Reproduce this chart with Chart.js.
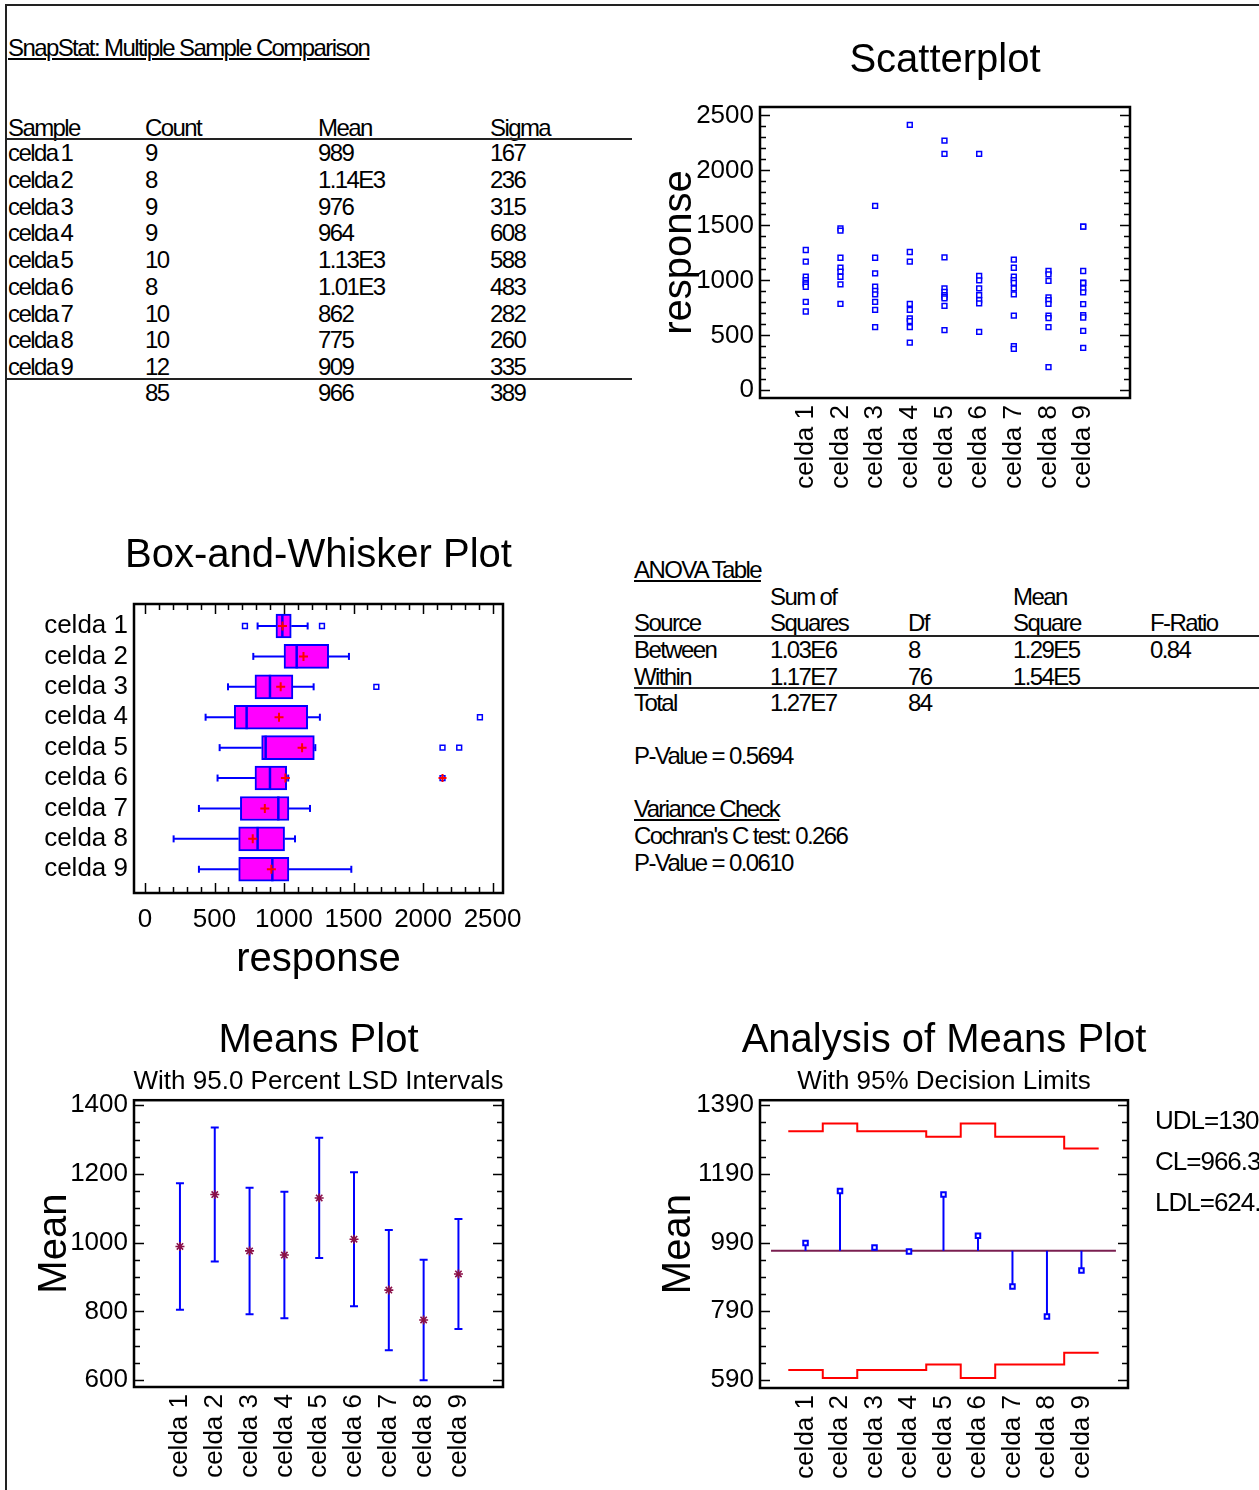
<!DOCTYPE html>
<html>
<head>
<meta charset="utf-8">
<title>Multiple Sample Comparison</title>
<script src="https://cdn.jsdelivr.net/npm/chart.js@4.4.1/dist/chart.umd.min.js"></script>
<style>
  html, body { margin: 0; padding: 0; background: #fff; overflow: hidden; }
  body { width: 1259px; height: 1490px; position: relative; font-family: 'Liberation Sans', Arial, sans-serif; color: #000; }
  .marco { position: absolute; left: 5px; top: 4px; right: -10px; bottom: -10px; border-left: 2px solid #222; border-top: 2px solid #222; }
  .t { position: absolute; font-size: 24px; line-height: 26px; letter-spacing: -1.6px; white-space: nowrap; }
  .u { text-decoration: underline; text-decoration-thickness: 1.5px; text-underline-offset: 2px; }
  .raya { position: absolute; height: 2px; background: #222; }
  .lim { position: absolute; font-size: 26px; line-height: 30px; letter-spacing: -1px; white-space: nowrap; }
  canvas { position: absolute; }
</style>
</head>
<body>
<div class="marco"></div>
<canvas id="dispersion" width="610" height="480" style="left:640px;top:20px"></canvas>
<canvas id="cajas" width="597" height="475" style="left:20px;top:515px"></canvas>
<canvas id="medias" width="597" height="485" style="left:20px;top:1005px"></canvas>
<canvas id="anom" width="608" height="485" style="left:640px;top:1005px"></canvas>
<script>
// muestras
const celdas = ['celda 1', 'celda 2', 'celda 3', 'celda 4', 'celda 5', 'celda 6', 'celda 7', 'celda 8', 'celda 9'];
const recuentos = [9, 8, 9, 9, 10, 8, 10, 10, 12];
const medias = [989, 1140, 976, 964, 1130, 1010, 862, 775, 909];
const sigmas = [167, 236, 315, 608, 588, 483, 282, 260, 335];
const totales = [85, 966, 389];

// observaciones de cada celda
const celda1 = [1276, 1170, 1033, 1002, 978, 963, 942, 805, 717];
const celda2 = [1473, 1452, 1206, 1115, 1079, 1033, 963, 787];
const celda3 = [1677, 1206, 1063, 942, 905, 872, 805, 732, 574];
const celda4 = [2415, 1258, 1170, 787, 732, 653, 629, 574, 434];
const celda5 = [2272, 2151, 1209, 927, 896, 866, 850, 836, 768, 547];
const celda6 = [2151, 1040, 1000, 927, 866, 820, 790, 531];
const celda7 = [1188, 1115, 1033, 1002, 978, 927, 872, 680, 401, 377];
const celda8 = [1085, 1054, 996, 845, 820, 787, 680, 656, 574, 210];
const celda9 = [1489, 1489, 1085, 980, 978, 927, 890, 784, 683, 662, 541, 386];
const respuestas = [celda1, celda2, celda3, celda4, celda5, celda6, celda7, celda8, celda9];

// caja y bigotes
const bigoteBajo = [810, 779, 597, 436, 537, 522, 388, 206, 388];
const cuartil1 = [942, 1000, 791, 642, 839, 791, 686, 674, 674];
const mediana = [988, 1091, 899, 731, 868, 899, 959, 810, 916];
const cuartil3 = [1052, 1321, 1064, 1170, 1218, 1019, 1035, 1004, 1035];
const bigoteAlto = [1170, 1467, 1213, 1258, 1225, 1030, 1187, 1079, 1484];
const atipicos = [[719, 1273], [], [1664], [2409], [2140, 2260], [2140], [], [], []];
const muyAtipicos = [[], [], [], [], [], [2140], [], [], []];

// intervalos LSD al 95%
const lsdBajo = [805, 945, 792, 780, 955, 815, 687, 600, 749];
const lsdAlto = [1173, 1335, 1160, 1148, 1305, 1205, 1037, 950, 1069];

// limites de decision ANOM
const lineaCentral = 966.3;
const limSuperior = [1314, 1337, 1314, 1314, 1298, 1337, 1298, 1298, 1264];
const limInferior = [619, 596, 619, 619, 635, 596, 635, 635, 669];

// marcas de los ejes
const ticksRespuesta = [0, 500, 1000, 1500, 2000, 2500];
const ticksMedias = [600, 800, 1000, 1200, 1400];
const ticksAnom = [590, 790, 990, 1190, 1390];

const AZUL = '#0000ff';
const ROJO = '#ff0000';

// ---------- texto de las tablas ----------
function texto(str, x, y, cls) {
  const d = document.createElement('div');
  d.className = 't' + (cls ? ' ' + cls : '');
  d.textContent = str;
  d.style.left = x + 'px';
  d.style.top = (y - 13) + 'px';
  document.body.appendChild(d);
}
function raya(x1, x2, y) {
  const d = document.createElement('div');
  d.className = 'raya';
  d.style.left = x1 + 'px';
  d.style.width = (x2 - x1) + 'px';
  d.style.top = (y - 1) + 'px';
  document.body.appendChild(d);
}
const fmt = (v) => (v >= 1000 ? (v / 1000).toFixed(2) + 'E3' : String(v));

texto('SnapStat: Multiple Sample Comparison', 8, 48, 'u');
const colTabla = [8, 145, 318, 490];
['Sample', 'Count', 'Mean', 'Sigma'].forEach((h, j) => texto(h, colTabla[j], 128));
raya(6, 632, 139);
celdas.forEach((c, i) => {
  const y = 153 + i * 26.75;
  texto(c.replace(' ', '\u2009'), colTabla[0], y);
  texto(String(recuentos[i]), colTabla[1], y);
  texto(fmt(medias[i]), colTabla[2], y);
  texto(String(sigmas[i]), colTabla[3], y);
});
raya(6, 632, 379);
totales.forEach((v, j) => texto(String(v), colTabla[j + 1], 393));

const colAnova = [634, 770, 908, 1013, 1150];
texto('ANOVA Table', 634, 570, 'u');
texto('Sum of', colAnova[1], 597);
texto('Mean', colAnova[3], 597);
['Source', 'Squares', 'Df', 'Square', 'F-Ratio'].forEach((h, j) => texto(h, colAnova[j], 623));
raya(634, 1259, 636);
[
  ['Between', '1.03E6', '8', '1.29E5', '0.84'],
  ['Within', '1.17E7', '76', '1.54E5', ''],
  ['Total', '1.27E7', '84', '', ''],
].forEach((fila, i) => fila.forEach((s, j) => { if (s) texto(s, colAnova[j], 650 + i * 26.5); }));
raya(634, 1259, 688);
texto('P-Value = 0.5694', 634, 756);
texto('Variance Check', 634, 809, 'u');
texto("Cochran's C test: 0.266", 634, 836);
texto('P-Value = 0.0610', 634, 863);

['UDL=1308.2', 'CL=' + lineaCentral, 'LDL=624.4'].forEach((s, i) => {
  const d = document.createElement('div');
  d.className = 'lim';
  d.textContent = s;
  d.style.left = '1155px';
  d.style.top = (1120 + i * 41 - 15) + 'px';
  document.body.appendChild(d);
});

// ---------- graficos ----------
Chart.defaults.font.family = "'Liberation Sans', Arial, sans-serif";
Chart.defaults.color = '#000';

// marco del area de trazado y marcas hacia dentro
const marcoTicks = {
  id: 'marcoTicks',
  afterDraw(chart, args, opts) {
    const { ctx, chartArea: a } = chart;
    ctx.save();
    ctx.strokeStyle = '#000';
    ctx.lineWidth = 1.5;
    (opts.marcas || []).forEach((m) => {
      const esc = chart.scales[m.eje];
      for (let v = m.desde; v <= m.hasta + 1e-6; v += m.paso) {
        const p = Math.round(esc.getPixelForValue(v)) + 0.5;
        const largo = Math.abs((v - m.desde) % m.mayor) < 1e-6 ? 10 : 6;
        ctx.beginPath();
        if (m.eje === 'y') {
          ctx.moveTo(a.left, p); ctx.lineTo(a.left + largo, p);
          ctx.moveTo(a.right, p); ctx.lineTo(a.right - largo, p);
        } else {
          ctx.moveTo(p, a.top); ctx.lineTo(p, a.top + largo);
          ctx.moveTo(p, a.bottom); ctx.lineTo(p, a.bottom - largo);
        }
        ctx.stroke();
      }
    });
    ctx.lineWidth = 2.5;
    ctx.strokeRect(a.left, a.top, a.right - a.left, a.bottom - a.top);
    ctx.restore();
  },
};

// eje vacio a la derecha: reserva margen y deja el titulo centrado sobre el area de trazado
function margenDerecho(ancho) {
  return {
    type: 'linear', position: 'right', display: true,
    grid: { display: false, drawTicks: false }, border: { display: false },
    ticks: { display: false },
    afterFit: (s) => { s.width = ancho; },
  };
}

function opciones(o) {
  return {
    responsive: false,
    animation: false,
    devicePixelRatio: 1,
    layout: { padding: 0 },
    scales: Object.assign({}, o.scales, { margen: margenDerecho(o.derecha) }),
    plugins: {
      legend: { display: false },
      tooltip: { enabled: false },
      title: { display: true, text: o.titulo, font: { size: 40, weight: 'normal' }, color: '#000', padding: o.tituloPad },
      subtitle: { display: !!o.subtitulo, text: o.subtitulo || '', font: { size: 26 }, color: '#000', padding: o.subPad || 0 },
      marcoTicks: { marcas: o.marcas },
    },
  };
}

function ejeCeldas(min, max, alto) {
  return {
    type: 'linear', min, max, bounds: 'data', offset: false,
    grid: { display: false, drawTicks: false }, border: { display: false },
    afterBuildTicks: (s) => { s.ticks = celdas.map((_, i) => ({ value: i + 1 })); },
    afterFit: (s) => { s.height = alto; },
    ticks: { autoSkip: false, minRotation: 90, maxRotation: 90, padding: 7, font: { size: 26 }, color: '#000', callback: (v) => celdas[v - 1] },
  };
}

function ejeValores(min, max, marcas, ancho, titulo, pad) {
  return {
    type: 'linear', min, max, bounds: 'data', offset: false,
    grid: { display: false, drawTicks: false }, border: { display: false },
    afterBuildTicks: (s) => { s.ticks = marcas.map((v) => ({ value: v })); },
    afterFit: (s) => { s.width = ancho; },
    ticks: { autoSkip: false, padding: 6, font: { size: 26 }, color: '#000', callback: (v) => String(v) },
    title: { display: true, text: titulo, font: { size: 40 }, color: '#000', padding: { top: pad, bottom: 0 } },
  };
}

// Scatterplot
new Chart(document.getElementById('dispersion'), {
  type: 'scatter',
  data: {
    datasets: [{
      data: respuestas.flatMap((vals, i) => vals.map((v) => ({ x: i + 1, y: v }))),
      pointStyle: 'rect', pointRadius: 3.4, pointBorderWidth: 1.5,
      borderColor: AZUL, backgroundColor: '#ffffff',
    }],
  },
  options: opciones({
    derecha: 120,
    titulo: 'Scatterplot', tituloPad: { top: 17, bottom: 22 },
    scales: {
      x: ejeCeldas(-0.32, 10.35, 102),
      y: ejeValores(-70, 2577, ticksRespuesta, 120, 'response', 16),
    },
    marcas: [{ eje: 'y', desde: 0, hasta: 2500, paso: 100, mayor: 500 }],
  }),
  plugins: [marcoTicks],
});

// Box-and-Whisker Plot
const porCelda = (f) => celdas.flatMap((_, i) => f(i, i + 1));
new Chart(document.getElementById('cajas'), {
  type: 'scatter',
  data: {
    datasets: [
      {
        data: porCelda((i, y) => [{ x: medias[i], y }]),
        pointStyle: 'cross', pointRadius: 4.5, pointBorderWidth: 2, borderColor: ROJO,
      },
      {
        data: porCelda((i, y) => muyAtipicos[i].map((x) => ({ x, y }))),
        pointStyle: 'cross', pointRadius: 4, pointBorderWidth: 2, borderColor: ROJO,
      },
      {
        data: porCelda((i, y) => [{ x: mediana[i], y }]),
        pointStyle: 'line', pointRotation: 90, pointRadius: 12, pointBorderWidth: 2.5, borderColor: AZUL,
      },
      {
        data: porCelda((i, y) => [{ x: bigoteBajo[i], y }, { x: bigoteAlto[i], y }]),
        pointStyle: 'line', pointRotation: 90, pointRadius: 3.5, pointBorderWidth: 2, borderColor: AZUL,
      },
      {
        data: porCelda((i, y) => atipicos[i].map((x) => ({ x, y }))),
        pointStyle: 'rect', pointRadius: 3.4, pointBorderWidth: 1.5, borderColor: AZUL, backgroundColor: '#ffffff',
      },
      {
        type: 'line',
        data: porCelda((i, y) => [
          { x: bigoteBajo[i], y }, { x: cuartil1[i], y }, { x: null, y },
          { x: cuartil3[i], y }, { x: bigoteAlto[i], y }, { x: null, y },
        ]),
        borderColor: AZUL, borderWidth: 2, pointRadius: 0, spanGaps: false,
      },
      {
        type: 'bar', indexAxis: 'y',
        data: porCelda((i, y) => [{ y, x: [cuartil1[i], cuartil3[i]] }]),
        backgroundColor: '#ff00ff', borderColor: AZUL, borderWidth: 2, borderSkipped: false, barThickness: 24,
      },
    ],
  },
  options: opciones({
    derecha: 114,
    titulo: 'Box-and-Whisker Plot', tituloPad: { top: 17, bottom: 24 },
    scales: {
      x: {
        type: 'linear', min: -79, max: 2575, bounds: 'data', offset: false,
        grid: { display: false, drawTicks: false }, border: { display: false },
        afterBuildTicks: (s) => { s.ticks = ticksRespuesta.map((v) => ({ value: v })); },
        afterFit: (s) => { s.height = 97; },
        ticks: { autoSkip: false, maxRotation: 0, padding: 11, font: { size: 26 }, color: '#000', callback: (v) => String(v) },
        title: { display: true, text: 'response', font: { size: 40 }, color: '#000', padding: { top: 0, bottom: 6 } },
      },
      y: {
        type: 'linear', min: 0.277, max: 9.78, reverse: true, bounds: 'data', offset: false,
        grid: { display: false, drawTicks: false }, border: { display: false },
        afterBuildTicks: (s) => { s.ticks = celdas.map((_, i) => ({ value: i + 1 })); },
        afterFit: (s) => { s.width = 114; },
        ticks: { autoSkip: false, padding: 6, font: { size: 26 }, color: '#000', callback: (v) => celdas[v - 1] },
      },
    },
    marcas: [{ eje: 'x', desde: 0, hasta: 2500, paso: 100, mayor: 500 }],
  }),
  plugins: [marcoTicks],
});

// Means Plot
new Chart(document.getElementById('medias'), {
  type: 'scatter',
  data: {
    datasets: [
      {
        data: porCelda((i, x) => [{ x, y: medias[i] }]),
        pointStyle: 'star', pointRadius: 4.5, pointBorderWidth: 1.6, borderColor: '#8b1048',
      },
      {
        data: porCelda((i, x) => [{ x, y: lsdBajo[i] }, { x, y: lsdAlto[i] }]),
        pointStyle: 'line', pointRadius: 4, pointBorderWidth: 2, borderColor: AZUL,
      },
      {
        type: 'line',
        data: porCelda((i, x) => [{ x, y: lsdBajo[i] }, { x, y: lsdAlto[i] }, { x, y: null }]),
        borderColor: AZUL, borderWidth: 2, pointRadius: 0, spanGaps: false,
      },
    ],
  },
  options: opciones({
    derecha: 114,
    titulo: 'Means Plot', tituloPad: { top: 12, bottom: 0 },
    subtitulo: 'With 95.0 Percent LSD Intervals', subPad: { top: 1, bottom: 3 },
    scales: {
      x: ejeCeldas(-0.32, 10.28, 103),
      y: ejeValores(580, 1414.5, ticksMedias, 114, 'Mean', 11),
    },
    marcas: [{ eje: 'y', desde: 600, hasta: 1400, paso: 50, mayor: 200 }],
  }),
  plugins: [marcoTicks],
});

// Analysis of Means Plot
new Chart(document.getElementById('anom'), {
  type: 'scatter',
  data: {
    datasets: [
      {
        data: porCelda((i, x) => [{ x, y: medias[i] }]),
        pointStyle: 'rect', pointRadius: 3.2, pointBorderWidth: 2, borderColor: AZUL, backgroundColor: '#ffffff',
      },
      {
        type: 'line',
        data: porCelda((i, x) => [{ x, y: lineaCentral }, { x, y: medias[i] }, { x, y: null }]),
        borderColor: AZUL, borderWidth: 2, pointRadius: 0, spanGaps: false,
      },
      {
        type: 'line',
        data: [{ x: 0, y: lineaCentral }, { x: 10, y: lineaCentral }],
        borderColor: '#7a1f50', borderWidth: 2, pointRadius: 0,
      },
      {
        type: 'line',
        data: porCelda((i, x) => [{ x: x - 0.5, y: limSuperior[i] }, { x: x + 0.5, y: limSuperior[i] }]),
        borderColor: ROJO, borderWidth: 2, pointRadius: 0,
      },
      {
        type: 'line',
        data: porCelda((i, x) => [{ x: x - 0.5, y: limInferior[i] }, { x: x + 0.5, y: limInferior[i] }]),
        borderColor: ROJO, borderWidth: 2, pointRadius: 0,
      },
    ],
  },
  options: opciones({
    derecha: 120,
    titulo: 'Analysis of Means Plot', tituloPad: { top: 12, bottom: 0 },
    subtitulo: 'With 95% Decision Limits', subPad: { top: 1, bottom: 3 },
    scales: {
      x: ejeCeldas(-0.32, 10.35, 102),
      y: ejeValores(566.7, 1404.5, ticksAnom, 120, 'Mean', 14.5),
    },
    marcas: [{ eje: 'y', desde: 590, hasta: 1390, paso: 50, mayor: 200 }],
  }),
  plugins: [marcoTicks],
});
</script>
</body>
</html>
